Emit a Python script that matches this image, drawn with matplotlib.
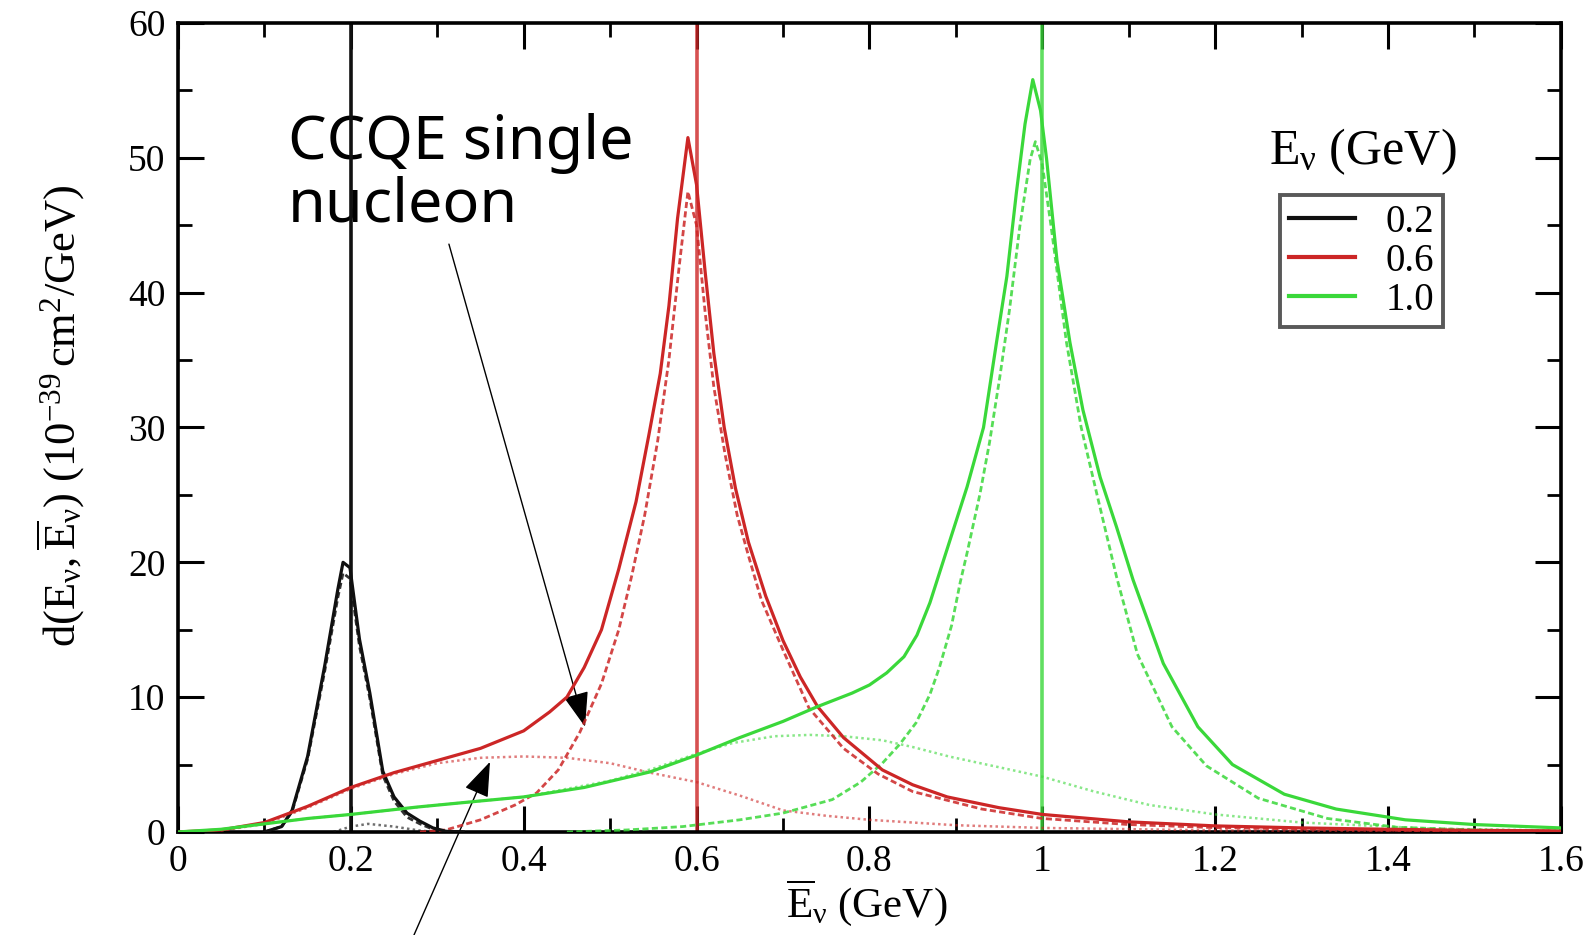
# plot.py — espectro d(E_nu, Ebar_nu) para três energias de neutrino
# Curvas: total (sólida), CCQE nucleon único (tracejada), 2p2h (pontilhada)

import matplotlib
matplotlib.use("Agg")
import matplotlib.pyplot as plt
from matplotlib.ticker import MultipleLocator, FixedLocator, FixedFormatter
from matplotlib.lines import Line2D

plt.rcParams["font.family"] = ["Liberation Serif", "DejaVu Serif"]
plt.rcParams["mathtext.fontset"] = "custom"
plt.rcParams["mathtext.rm"] = "Liberation Serif"
plt.rcParams["mathtext.it"] = "Liberation Serif:italic"

# ─────────────────────────────────────────────────────────────────────────────
# DADOS
# ─────────────────────────────────────────────────────────────────────────────
ENERGIAS = ["0.2", "0.6", "1.0"]
E_LINHAS = [0.2, 0.6, 1.0]

# E_nu = 0.2 GeV
x_02_tot = [0.10, 0.12, 0.132, 0.15, 0.17, 0.185, 0.191, 0.199, 0.21, 0.222,
            0.237, 0.25, 0.265, 0.28, 0.295, 0.31, 0.33]
y_02_tot = [0.0, 0.4, 1.6, 5.6, 12.4, 18.0, 20.0, 19.6, 14.3, 10.3,
            4.5, 2.6, 1.4, 0.8, 0.3, 0.05, 0.0]
x_02_qe = [0.10, 0.12, 0.132, 0.15, 0.17, 0.185, 0.191, 0.199, 0.21, 0.222,
           0.237, 0.25, 0.265, 0.28, 0.295, 0.31, 0.33]
y_02_qe = [0.0, 0.4, 1.5, 5.4, 12.0, 17.4, 19.2, 18.8, 13.8, 9.9,
           4.2, 2.3, 1.1, 0.6, 0.2, 0.03, 0.0]
x_02_2p = [0.18, 0.20, 0.22, 0.25, 0.28, 0.30]
y_02_2p = [0.0, 0.4, 0.6, 0.4, 0.1, 0.0]

# E_nu = 0.6 GeV
x_06_tot = [0.00, 0.05, 0.10, 0.15, 0.20, 0.25, 0.30, 0.35, 0.40, 0.43, 0.45,
            0.47, 0.49, 0.51, 0.53, 0.545, 0.558, 0.568, 0.578, 0.590, 0.600,
            0.610, 0.620, 0.632, 0.645, 0.66, 0.68, 0.70, 0.72, 0.74, 0.77,
            0.815, 0.85, 0.89, 0.95, 1.00, 1.10, 1.20, 1.30, 1.40, 1.50, 1.60]
y_06_tot = [0.0, 0.15, 0.7, 1.9, 3.3, 4.4, 5.3, 6.2, 7.5, 8.9, 10.0,
            12.2, 15.0, 19.5, 24.5, 29.5, 34.0, 39.0, 45.5, 51.5, 48.0,
            41.5, 35.5, 30.0, 25.5, 21.5, 17.5, 14.2, 11.5, 9.3, 7.0,
            4.6, 3.5, 2.6, 1.8, 1.3, 0.75, 0.45, 0.3, 0.2, 0.12, 0.08]
x_06_qe = [0.28, 0.31, 0.35, 0.39, 0.415, 0.44, 0.465, 0.49, 0.51, 0.525, 0.54,
           0.555, 0.568, 0.58, 0.59, 0.60, 0.61, 0.62, 0.633, 0.647, 0.66,
           0.675, 0.70, 0.73, 0.77, 0.81, 0.85, 0.93, 1.00, 1.10, 1.20, 1.40, 1.60]
y_06_qe = [0.0, 0.15, 0.9, 2.0, 2.9, 4.6, 7.4, 11.0, 15.0, 19.0, 23.5,
           29.0, 35.0, 42.0, 47.5, 45.0, 38.5, 33.0, 28.0, 23.5, 20.5,
           17.2, 13.5, 9.2, 6.2, 4.3, 3.0, 1.7, 1.0, 0.55, 0.32, 0.12, 0.05]
x_06_2p = [0.05, 0.10, 0.15, 0.20, 0.25, 0.30, 0.35, 0.40, 0.45, 0.50, 0.546,
           0.60, 0.65, 0.70, 0.75, 0.80, 0.90, 1.00, 1.20, 1.40, 1.60]
y_06_2p = [0.1, 0.6, 1.8, 3.2, 4.3, 5.1, 5.5, 5.6, 5.5, 5.1, 4.4,
           3.7, 2.7, 1.6, 1.2, 0.9, 0.5, 0.3, 0.12, 0.05, 0.02]

# E_nu = 1.0 GeV
x_10_tot = [0.00, 0.05, 0.10, 0.15, 0.20, 0.277, 0.35, 0.40, 0.47, 0.546, 0.60,
            0.65, 0.70, 0.74, 0.78, 0.80, 0.82, 0.84, 0.855, 0.87, 0.885, 0.90,
            0.913, 0.932, 0.947, 0.959, 0.970, 0.980, 0.989, 0.998, 1.005, 1.017,
            1.032, 1.047, 1.067, 1.086, 1.105, 1.14, 1.18, 1.22, 1.28, 1.34,
            1.42, 1.50, 1.60]
y_10_tot = [0.0, 0.2, 0.6, 1.0, 1.3, 1.85, 2.3, 2.6, 3.3, 4.45, 5.7,
            7.0, 8.2, 9.3, 10.3, 10.9, 11.8, 13.0, 14.6, 17.0, 20.0, 23.0,
            25.6, 30.0, 36.3, 41.2, 47.4, 52.5, 55.8, 53.5, 49.9, 42.4,
            36.3, 31.3, 26.3, 22.6, 18.7, 12.5, 7.8, 5.0, 2.8, 1.7,
            0.9, 0.55, 0.3]
x_10_qe = [0.45, 0.52, 0.584, 0.65, 0.70, 0.757, 0.79, 0.815, 0.835, 0.854,
           0.87, 0.881, 0.895, 0.905, 0.913, 0.928, 0.939, 0.951, 0.962, 0.974,
           0.986, 0.992, 1.00, 1.01, 1.028, 1.045, 1.063, 1.086, 1.11, 1.15,
           1.19, 1.25, 1.33, 1.41, 1.50, 1.60]
y_10_qe = [0.0, 0.15, 0.4, 0.9, 1.4, 2.4, 3.7, 5.1, 6.5, 8.1,
           10.2, 12.2, 15.3, 18.5, 20.7, 25.1, 28.9, 33.8, 38.7, 44.9,
           49.9, 51.2, 49.5, 45.0, 36.3, 30.0, 25.1, 18.9, 13.2, 7.8,
           4.9, 2.5, 1.0, 0.35, 0.15, 0.05]
x_10_2p = [0.05, 0.10, 0.15, 0.20, 0.30, 0.40, 0.50, 0.55, 0.60, 0.642, 0.69,
           0.731, 0.77, 0.815, 0.85, 0.892, 0.95, 1.00, 1.06, 1.124, 1.20,
           1.30, 1.45, 1.60]
y_10_2p = [0.2, 0.6, 1.0, 1.3, 2.0, 2.6, 3.8, 4.7, 5.8, 6.6, 7.1,
           7.2, 7.1, 6.8, 6.3, 5.6, 4.8, 4.1, 3.0, 2.0, 1.3,
           0.7, 0.25, 0.1]

X_TICKS = [0, 0.2, 0.4, 0.6, 0.8, 1.0, 1.2, 1.4, 1.6]
X_TICK_LABELS = ["0", "0.2", "0.4", "0.6", "0.8", "1", "1.2", "1.4", "1.6"]
Y_TICKS = [0, 10, 20, 30, 40, 50, 60]

# ─────────────────────────────────────────────────────────────────────────────
# ESTILO
# ─────────────────────────────────────────────────────────────────────────────
COR_PRETO = "#101010"
COR_VERM = "#cc2626"
COR_VERDE = "#3ad83a"
CORES = [COR_PRETO, COR_VERM, COR_VERDE]

LW_SOL = 2.3
LW_TRA = 2.0
LW_PON = 1.8
TRACO = (0, (2.2, 1.2))
PONTO = (0, (1.0, 1.3))

# ─────────────────────────────────────────────────────────────────────────────
# FIGURA
# ─────────────────────────────────────────────────────────────────────────────
fig = plt.figure(figsize=(15.96, 9.35), dpi=100)
ax = fig.add_axes([0.1115, 0.1102, 0.8665, 0.8652])

# linhas verticais nas energias do neutrino
for e, cor, a in zip(E_LINHAS, CORES, [1.0, 0.8, 0.8]):
    ax.axvline(e, color=cor, linewidth=2.6, alpha=a, zorder=2)

series = [
    (x_02_tot, y_02_tot, x_02_qe, y_02_qe, x_02_2p, y_02_2p),
    (x_06_tot, y_06_tot, x_06_qe, y_06_qe, x_06_2p, y_06_2p),
    (x_10_tot, y_10_tot, x_10_qe, y_10_qe, x_10_2p, y_10_2p),
]
for (xt, yt, xq, yq, xp, yp), cor in zip(series, CORES):
    ax.plot(xp, yp, color=cor, linewidth=LW_PON, linestyle=PONTO, alpha=0.6, zorder=3)
    ax.plot(xq, yq, color=cor, linewidth=LW_TRA, linestyle=TRACO, alpha=0.85, zorder=4)
    ax.plot(xt, yt, color=cor, linewidth=LW_SOL, zorder=5)

ax.set_xlim(0, 1.6)
ax.set_ylim(0, 60)

ax.xaxis.set_major_locator(FixedLocator(X_TICKS))
ax.xaxis.set_major_formatter(FixedFormatter(X_TICK_LABELS))
ax.xaxis.set_minor_locator(MultipleLocator(0.1))
ax.yaxis.set_major_locator(FixedLocator(Y_TICKS))
ax.yaxis.set_minor_locator(MultipleLocator(5))

ax.tick_params(which="both", direction="in", top=True, right=True, labelsize=27)
ax.tick_params(which="major", length=19, width=2.2, pad=9)
ax.tick_params(which="minor", length=10, width=2.0)
for spine in ax.spines.values():
    spine.set_linewidth(2.6)

ax.set_xlabel(r"$\overline{\mathrm{E}}_{\mathrm{ν}}\ \mathrm{(GeV)}$", fontsize=31, va="top")
ax.xaxis.set_label_coords(0.498, -0.056)
ax.set_ylabel(r"$\mathrm{d(E_{ν},\overline{E}_{ν})\ (10^{-39}\,cm^{2}/GeV)}$",
              fontsize=32, va="center")
ax.yaxis.set_label_coords(-0.085, 0.515)

# legenda (título fora da caixa, como no original)
ax.text(0.857, 0.826, r"$\mathrm{E_{ν}\ (GeV)}$", transform=ax.transAxes,
        ha="center", va="baseline", fontsize=36)
handles = [Line2D([0], [0], color=c, linewidth=3.0) for c in CORES]
leg = ax.legend(handles, ENERGIAS, loc="upper left", bbox_to_anchor=(0.797, 0.787),
                fontsize=28, frameon=True, fancybox=False, edgecolor="#303030",
                handlelength=1.7, handletextpad=0.8, labelspacing=0.05,
                borderpad=0.22, borderaxespad=0.0)
leg.get_frame().set_linewidth(2.8)

# anotações (em texto multilinha, 'baseline' vale para a última linha)
ax.text(0.127, 45.3, "CCQE single\nnucleon", family=["Noto Sans", "DejaVu Sans"],
        fontsize=44, linespacing=1.02, va="baseline", ha="left", zorder=1)
seta = dict(arrowstyle="-|>,head_length=0.55,head_width=0.2", color="black",
            linewidth=1.0, shrinkA=0, shrinkB=0, mutation_scale=40)
ax.annotate("", xy=(0.471, 7.8), xytext=(0.3135, 43.6), arrowprops=seta,
            annotation_clip=False)
ax.annotate("", xy=(0.361, 5.2), xytext=(0.272, -7.8), arrowprops=seta,
            annotation_clip=False)

fig.savefig("out.png", dpi=100, facecolor="white")
plt.close(fig)
